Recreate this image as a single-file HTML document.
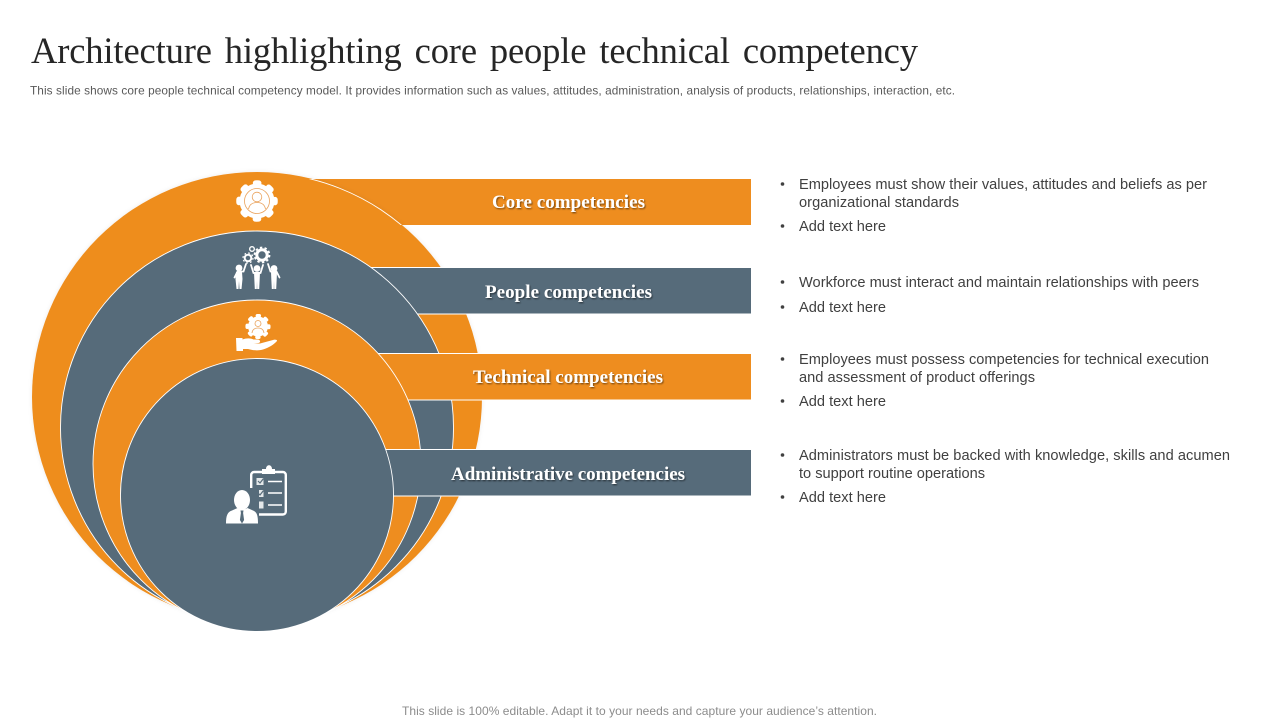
<!DOCTYPE html>
<html lang="en">
<head>
<meta charset="utf-8">
<title>Architecture highlighting core people technical competency</title>
<style>
html,body{margin:0;padding:0;background:#fff;width:1280px;height:720px;overflow:hidden}
svg{display:block}
.sans{font-family:"Liberation Sans",sans-serif}
.serif{font-family:"Liberation Serif",serif}
.bt{font-family:"Liberation Sans",sans-serif;font-size:14.6px;fill:#404040}
.lab{font-family:"Liberation Serif",serif;font-weight:bold;font-size:19px;fill:#fff;text-anchor:start;filter:url(#ts)}
.bar{stroke:#fff;stroke-width:1}
.cir{stroke:#fff;stroke-width:0.9}
</style>
</head>
<body>
<svg width="1280" height="720" viewBox="0 0 1280 720" xmlns="http://www.w3.org/2000/svg">
<defs>
<filter id="ts" x="-10%" y="-30%" width="120%" height="170%"><feDropShadow dx="1" dy="1.2" stdDeviation="0.9" flood-color="#000" flood-opacity="0.5"/></filter>
<filter id="cs" x="-5%" y="-5%" width="110%" height="110%"><feDropShadow dx="0" dy="0" stdDeviation="2" flood-color="#000" flood-opacity="0.08"/></filter>
<clipPath id="core-bar-clip"><rect x="300" y="179" width="200" height="46"/></clipPath>
</defs>

<text class="serif" x="31" y="63" font-size="36.500" fill="#262626" word-spacing="4" textLength="887" lengthAdjust="spacing">Architecture highlighting core people technical competency</text>
<text class="sans" x="30" y="94.500" font-size="11.800" fill="#595959" textLength="925" lengthAdjust="spacing">This slide shows core people technical competency model. It provides information such as values, attitudes, administration, analysis of products, relationships, interaction, etc.</text>

<rect x="300" y="179" width="451" height="46" fill="#ee8d1f"/>
<circle cx="257" cy="397" r="225" fill="#ee8d1f" filter="url(#cs)"/>
<circle cx="257" cy="397" r="224.500" fill="none" stroke="#fff" stroke-width="0.9" clip-path="url(#core-bar-clip)"/>
<rect class="bar" x="300" y="267.500" width="451.500" height="46.500" fill="#566b7a"/>
<circle class="cir" cx="257" cy="427.500" r="196.500" fill="#566b7a"/>
<rect class="bar" x="300" y="353.500" width="451.500" height="46.500" fill="#ee8d1f"/>
<circle class="cir" cx="257" cy="464" r="164" fill="#ee8d1f"/>
<rect class="bar" x="300" y="449.500" width="451.500" height="46.500" fill="#566b7a"/>
<circle class="cir" cx="257" cy="495" r="136.500" fill="#566b7a"/>

<text class="lab" x="492" y="208" textLength="153" lengthAdjust="spacing">Core competencies</text>
<text class="lab" x="485" y="298" textLength="167" lengthAdjust="spacing">People competencies</text>
<text class="lab" x="473" y="383" textLength="190" lengthAdjust="spacing">Technical competencies</text>
<text class="lab" x="451" y="480" textLength="234" lengthAdjust="spacing">Administrative competencies</text>

<!-- core icon -->
<g>
  <circle cx="257" cy="201" r="17.500" fill="#fff"/>
  <circle cx="257" cy="201" r="18" fill="none" stroke="#fff" stroke-width="5.500" stroke-linecap="round" stroke-dasharray="3.200 10.937" stroke-dashoffset="1.600"/>
  <circle cx="257" cy="201" r="12.500" fill="none" stroke="#e9a25c" stroke-width="0.800"/>
  <circle cx="257" cy="197" r="4.800" fill="none" stroke="#e9a25c" stroke-width="0.800"/>
  <path d="M248.500 209c1-5 4-6.500 8.500-6.500s7.500 1.500 8.500 6.500" fill="none" stroke="#e9a25c" stroke-width="0.800"/>
</g>

<!-- people icon -->
<g fill="#fff" stroke="#fff">
  <circle cx="262" cy="255" r="5.200" fill="none" stroke-width="3"/>
  <circle cx="262" cy="255" r="7.500" fill="none" stroke-width="1.800" stroke-dasharray="2.400 2.312"/>
  <circle cx="248" cy="258" r="3.300" fill="none" stroke-width="2"/>
  <circle cx="248" cy="258" r="5" fill="none" stroke-width="1.200" stroke-dasharray="1.800 2.127"/>
  <circle cx="252" cy="249" r="2.300" fill="none" stroke-width="1.400"/>
  <g stroke="none">
    <circle cx="239" cy="268" r="3.400"/><circle cx="257" cy="268.500" r="3.400"/><circle cx="274" cy="268.500" r="3.400"/>
  </g>
  <g fill="none" stroke-linecap="round" stroke-width="1.800">
    <path d="M246 264l-2.500 7.500h-6l-3 6"/>
    <path d="M251 265l2.500 8h7l2.500-8"/>
    <path d="M268 264l2.500 7.500h6l3 6"/>
  </g>
  <g stroke="none">
    <path d="M236 272h6l.5 7-1 10h-2l-.5-8-.5 8h-2l-1-10z"/>
    <path d="M254 272h6l-.3 7-.5 10h-2l-.2-8-.2 8h-2l-.5-10z"/>
    <path d="M271 272h6l-.3 7-.5 10h-2l-.2-8-.2 8h-2l-.5-10z"/>
  </g>
</g>

<!-- technical icon -->
<g>
  <circle cx="258" cy="326.500" r="10" fill="#fff"/>
  <circle cx="258" cy="326.500" r="10.800" fill="none" stroke="#fff" stroke-width="3.500" stroke-linecap="round" stroke-dasharray="2 6.482" stroke-dashoffset="1"/>
  <circle cx="258" cy="323.500" r="3" fill="none" stroke="#e9a25c" stroke-width="0.800"/>
  <path d="M252 333c.5-4 3-5 6-5s5.500 1 6 5" fill="none" stroke="#e9a25c" stroke-width="0.800"/>
  <path fill="#fff" d="M236 338h6.500v1.500c4-1.500 8-1.500 11 0h4c3 0 3.500 3 1 3.500l-5 .5 6.500 0 13-3.500c2-.8 4.500 0 4 1-3 3.500-8 6.500-14 8.500-5 1.500-11 .7-15-.5h-5v2h-6.500z"/>
</g>

<!-- administrative icon -->
<g>
  <rect x="251.200" y="472" width="34.600" height="42.500" rx="3" fill="none" stroke="#fff" stroke-width="2.400"/>
  <path fill="#fff" d="M262 474v-5h4c0-5 6-5 6 0h3v5z"/>
  <rect x="256.500" y="478" width="7" height="7" fill="#e4e8ea"/>
  <path d="M258 481l2 2 3.500-4.500" fill="none" stroke="#566b7a" stroke-width="1.200"/>
  <rect x="256.500" y="490" width="7" height="7" fill="#e4e8ea"/>
  <path d="M258 493l2 2 3.500-4.500" fill="none" stroke="#566b7a" stroke-width="1.200"/>
  <rect x="256.500" y="501.500" width="7" height="7" fill="#e4e8ea"/>
  <path d="M268 481.500h14M268 493h14M268 505h14" stroke="#fff" stroke-width="1.400" fill="none"/>
  <rect x="225" y="488" width="34" height="37" fill="#566b7a"/>
  <ellipse cx="242" cy="500" rx="8" ry="10" fill="#fff"/>
  <path fill="#fff" d="M226 523.500c0-8 1.500-11.500 6-13l5.500-2.500c3 2 7 2 10 0l5.500 2.500c4 1.500 5 5 5 13z"/>
  <path fill="#566b7a" d="M240.500 510.500h3l-.4 2.500 1 7-2.100 3.500-2.100-3.500 1-7z"/>
</g>

<g>
  <circle cx="782.500" cy="184" r="1.800" fill="#404040"/>
  <text class="bt" x="799" y="189" textLength="408" lengthAdjust="spacing">Employees must show their values, attitudes and beliefs as per</text>
  <text class="bt" x="799" y="207" textLength="160" lengthAdjust="spacing">organizational standards</text>
  <circle cx="782.500" cy="226" r="1.800" fill="#404040"/>
  <text class="bt" x="799" y="231" textLength="87" lengthAdjust="spacing">Add text here</text>
</g>
<g>
  <circle cx="782.500" cy="282" r="1.800" fill="#404040"/>
  <text class="bt" x="799" y="287" textLength="400" lengthAdjust="spacing">Workforce must interact and maintain relationships with peers</text>
  <circle cx="782.500" cy="307" r="1.800" fill="#404040"/>
  <text class="bt" x="799" y="312" textLength="87" lengthAdjust="spacing">Add text here</text>
</g>
<g>
  <circle cx="782.500" cy="359" r="1.800" fill="#404040"/>
  <text class="bt" x="799" y="364" textLength="410" lengthAdjust="spacing">Employees must possess competencies for technical execution</text>
  <text class="bt" x="799" y="382" textLength="236" lengthAdjust="spacing">and assessment of product offerings</text>
  <circle cx="782.500" cy="401" r="1.800" fill="#404040"/>
  <text class="bt" x="799" y="406" textLength="87" lengthAdjust="spacing">Add text here</text>
</g>
<g>
  <circle cx="782.500" cy="455" r="1.800" fill="#404040"/>
  <text class="bt" x="799" y="460" textLength="431" lengthAdjust="spacing">Administrators must be backed with knowledge, skills and acumen</text>
  <text class="bt" x="799" y="478" textLength="186" lengthAdjust="spacing">to support routine operations</text>
  <circle cx="782.500" cy="497" r="1.800" fill="#404040"/>
  <text class="bt" x="799" y="502" textLength="87" lengthAdjust="spacing">Add text here</text>
</g>

<text class="sans" x="402" y="715" font-size="12" fill="#8c8c8c" textLength="475" lengthAdjust="spacing">This slide is 100% editable. Adapt it to your needs and capture your audience’s attention.</text>
</svg>
</body>
</html>
